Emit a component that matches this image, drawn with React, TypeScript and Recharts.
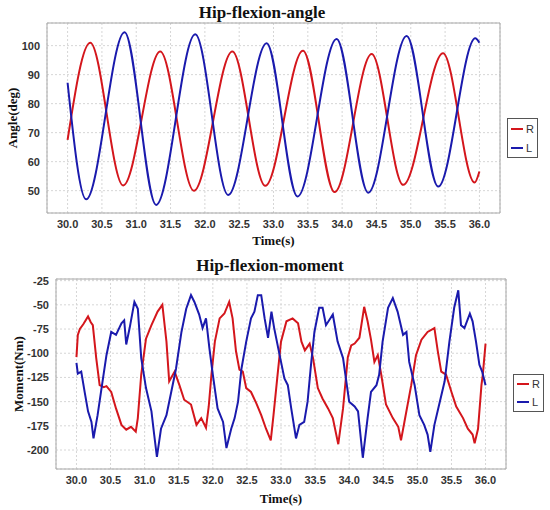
import { LineChart, Line, XAxis, YAxis, CartesianGrid, Legend, ReferenceArea } from 'recharts'

const timeTicks = [30, 30.5, 31, 31.5, 32, 32.5, 33, 33.5, 34, 34.5, 35, 35.5, 36]
const angleTicks = [50, 60, 70, 80, 90, 100]
const momentTicks = [-200, -175, -150, -125, -100, -75, -50, -25]
const seriesOrder = ['R', 'L']

const timeDomain = [29.7, 36.3]
const angleDomain = [42.3, 107.8]
const momentDomain = [-219.6, -23.3]

// hip flexion angle, right / left
const angleRTime = [30.0, 30.33, 30.81, 31.35, 31.84, 32.4, 32.88, 33.43, 33.89, 34.43, 34.89, 35.47, 35.93, 36.0]
const angleRValue = [67.5, 101, 51.8, 98, 50, 98, 51.7, 98.2, 49.5, 97.1, 52, 97.4, 52.8, 56.6]
const angleLTime = [30.0, 30.27, 30.83, 31.29, 31.86, 32.34, 32.9, 33.35, 33.92, 34.38, 34.94, 35.4, 35.94, 36.0]
const angleLValue = [87.2, 47, 104.6, 45.1, 103.9, 48.5, 100.8, 48, 102.3, 49.3, 103.3, 51.4, 102.5, 101]

// hip flexion moment, right / left
const momentRTime = [
  30.0, 30.02, 30.05, 30.1, 30.17, 30.21, 30.24, 30.29, 30.34, 30.4, 30.44, 30.51, 30.58, 30.66, 30.73, 30.8,
  30.87, 30.9, 30.95, 31.02, 31.1, 31.19, 31.26, 31.32, 31.36, 31.44, 31.51, 31.58, 31.68, 31.76, 31.83, 31.9,
  31.94, 31.98, 32.03, 32.1, 32.17, 32.24, 32.29, 32.34, 32.39, 32.44, 32.49, 32.56, 32.64, 32.71, 32.78, 32.85,
  32.89, 32.95, 33.0, 33.08, 33.17, 33.25, 33.3, 33.35, 33.42, 33.47, 33.54, 33.61, 33.69, 33.76, 33.84, 33.91,
  33.98, 34.03, 34.08, 34.15, 34.22, 34.27, 34.32, 34.37, 34.42, 34.47, 34.54, 34.64, 34.72, 34.76, 34.81, 34.91,
  34.98, 35.06, 35.15, 35.25, 35.3, 35.35, 35.42, 35.5, 35.57, 35.67, 35.74, 35.81, 35.84, 35.89, 35.94, 35.96, 36.0,
]
const momentRValue = [
  -104, -81, -75, -70, -62, -68, -71, -105, -133, -135, -134, -140, -157, -174, -179, -176,
  -181, -167, -122, -85, -71, -57, -50, -88, -129, -119, -133, -148, -153, -174, -167, -177,
  -155, -122, -88, -64, -59, -47, -64, -98, -117, -119, -136, -140, -152, -164, -178, -190,
  -164, -122, -88, -67, -64, -69, -88, -97, -90, -105, -136, -147, -157, -167, -194, -157,
  -104, -92, -90, -84, -52, -67, -86, -109, -102, -122, -153, -167, -176, -190, -171, -133,
  -102, -86, -78, -74, -98, -119, -122, -140, -155, -167, -178, -184, -193, -178, -133, -122, -90,
]
const momentLTime = [
  30.0, 30.02, 30.07, 30.12, 30.17, 30.22, 30.25, 30.31, 30.36, 30.44, 30.51, 30.58, 30.66, 30.7, 30.73, 30.78,
  30.85, 30.9, 30.95, 31.02, 31.1, 31.14, 31.18, 31.24, 31.32, 31.39, 31.46, 31.54, 31.61, 31.68, 31.73, 31.8,
  31.85, 31.9, 31.95, 32.0, 32.07, 32.15, 32.2, 32.27, 32.32, 32.37, 32.42, 32.49, 32.56, 32.61, 32.66, 32.71,
  32.76, 32.81, 32.86, 32.9, 32.98, 33.05, 33.1, 33.15, 33.22, 33.27, 33.34, 33.39, 33.44, 33.49, 33.56, 33.61,
  33.66, 33.76, 33.83, 33.91, 34.0, 34.08, 34.13, 34.2, 34.27, 34.32, 34.4, 34.44, 34.49, 34.57, 34.64, 34.71,
  34.79, 34.84, 34.88, 34.96, 35.03, 35.1, 35.15, 35.19, 35.25, 35.32, 35.4, 35.47, 35.54, 35.6, 35.64, 35.69,
  35.77, 35.81, 35.86, 35.91, 35.95, 36.0,
]
const momentLValue = [
  -110, -121, -119, -140, -160, -171, -188, -164, -140, -102, -78, -81, -69, -66, -91, -74,
  -47, -54, -105, -136, -160, -184, -207, -178, -164, -140, -116, -78, -54, -40, -47, -60,
  -74, -64, -95, -122, -157, -171, -198, -178, -167, -150, -116, -88, -64, -57, -40, -40,
  -64, -84, -57, -74, -102, -126, -133, -157, -188, -174, -171, -150, -112, -78, -53, -53,
  -71, -60, -88, -105, -150, -155, -160, -208, -167, -140, -133, -122, -88, -53, -43, -57,
  -81, -78, -109, -133, -164, -174, -184, -202, -174, -153, -129, -88, -53, -35, -71, -74,
  -59, -67, -88, -112, -119, -133,
]

const toPoints = (times: number[], values: number[]) => times.map((time, i) => ({ time, value: values[i] }))

const RED = '#d4161c'
const BLUE = '#1a1aad'

const tickStyle = { fontFamily: '"Liberation Sans", Arial, sans-serif', fontWeight: 'bold', fontSize: 11, fill: '#333' }
const labelStyle = { fontFamily: '"Liberation Serif", "Times New Roman", serif', fontWeight: 'bold', fontSize: 13, fill: '#111' }

function LegendBox(props: any) {
  const { payload = [], rowHeight } = props
  const items = [...payload].sort((a: any, b: any) => seriesOrder.indexOf(a.value) - seriesOrder.indexOf(b.value))
  return (
    <div style={{ border: '1px solid #555', background: '#fff', padding: '0 3px' }}>
      {items.map((p: any) => (
        <div key={p.value} style={{ display: 'flex', alignItems: 'center', height: rowHeight }}>
          <span style={{ display: 'inline-block', width: 12, height: 2, background: p.color, marginRight: 3 }} />
          <span style={{ fontFamily: '"Liberation Sans", Arial, sans-serif', fontSize: 11, color: '#333' }}>{p.value}</span>
        </div>
      ))}
    </div>
  )
}

function Title(props: { text: string; left: number; top: number }) {
  return (
    <div
      style={{
        position: 'absolute',
        left: props.left - 100,
        top: props.top,
        width: 200,
        textAlign: 'center',
        fontFamily: '"Liberation Serif", "Times New Roman", serif',
        fontWeight: 'bold',
        fontSize: 17,
        lineHeight: '17px',
        color: '#111',
      }}
    >
      {props.text}
    </div>
  )
}

export default function App() {
  return (
    <div style={{ position: 'absolute', left: 0, top: 0, width: 550, height: 510, background: '#fff' }}>
      <Title text="Hip-flexion-angle" left={262} top={4} />
      <div style={{ position: 'absolute', left: 0, top: 0 }}>
        <LineChart width={550} height={250} margin={{ top: 23, right: 50, bottom: 0, left: 0 }}>
          <CartesianGrid stroke="#d6d6d6" strokeDasharray="2 2" />
          <XAxis
            dataKey="time"
            type="number"
            domain={timeDomain}
            ticks={timeTicks}
            tickFormatter={(v: number) => v.toFixed(1)}
            height={37}
            axisLine={false}
            tickLine={false}
            tickSize={5}
            tickMargin={2}
            tick={tickStyle}
            label={{ value: 'Time(s)', position: 'insideBottom', offset: 5, style: labelStyle }}
          />
          <YAxis
            type="number"
            domain={angleDomain}
            ticks={angleTicks}
            width={47}
            axisLine={false}
            tickLine={false}
            tickSize={5}
            tickMargin={2}
            tick={tickStyle}
            label={{ value: 'Angle(deg)', angle: -90, position: 'insideLeft', offset: 12, style: { ...labelStyle, textAnchor: 'middle' } }}
          />
          <ReferenceArea x1={timeDomain[0]} x2={timeDomain[1]} y1={angleDomain[0]} y2={angleDomain[1]} fill="none" stroke="#a8a8a8" ifOverflow="visible" />
          <Line data={toPoints(angleRTime, angleRValue)} dataKey="value" name="R" type="monotone" stroke={RED} strokeWidth={2} dot={false} isAnimationActive={false} />
          <Line data={toPoints(angleLTime, angleLValue)} dataKey="value" name="L" type="monotone" stroke={BLUE} strokeWidth={2} dot={false} isAnimationActive={false} />
          <Legend
            layout="vertical"
            align="center"
            verticalAlign="middle"
            content={(p: any) => <LegendBox {...p} rowHeight={19} />}
            wrapperStyle={{ left: 507, top: 118, width: 'auto', height: 'auto' }}
          />
        </LineChart>
      </div>

      <Title text="Hip-flexion-moment" left={270} top={257} />
      <div style={{ position: 'absolute', left: 0, top: 250 }}>
        <LineChart width={550} height={260} margin={{ top: 29, right: 44, bottom: 0, left: 0 }}>
          <CartesianGrid stroke="#d6d6d6" strokeDasharray="2 2" />
          <XAxis
            dataKey="time"
            type="number"
            domain={timeDomain}
            ticks={timeTicks}
            tickFormatter={(v: number) => v.toFixed(1)}
            height={41}
            axisLine={false}
            tickLine={false}
            tickSize={5}
            tickMargin={2}
            tick={tickStyle}
            label={{ value: 'Time(s)', position: 'insideBottom', offset: 7, style: labelStyle }}
          />
          <YAxis
            type="number"
            domain={momentDomain}
            ticks={momentTicks}
            width={56}
            axisLine={false}
            tickLine={false}
            tickSize={5}
            tickMargin={2}
            tick={tickStyle}
            label={{ value: 'Moment(Nm)', angle: -90, position: 'insideLeft', offset: 18, style: { ...labelStyle, textAnchor: 'middle' } }}
          />
          <ReferenceArea x1={timeDomain[0]} x2={timeDomain[1]} y1={momentDomain[0]} y2={momentDomain[1]} fill="none" stroke="#a8a8a8" ifOverflow="visible" />
          <Line data={toPoints(momentRTime, momentRValue)} dataKey="value" name="R" type="linear" stroke={RED} strokeWidth={2} dot={false} isAnimationActive={false} />
          <Line data={toPoints(momentLTime, momentLValue)} dataKey="value" name="L" type="linear" stroke={BLUE} strokeWidth={2} dot={false} isAnimationActive={false} />
          <Legend
            layout="vertical"
            align="center"
            verticalAlign="middle"
            content={(p: any) => <LegendBox {...p} rowHeight={18} />}
            wrapperStyle={{ left: 513, top: 124, width: 'auto', height: 'auto' }}
          />
        </LineChart>
      </div>
    </div>
  )
}
